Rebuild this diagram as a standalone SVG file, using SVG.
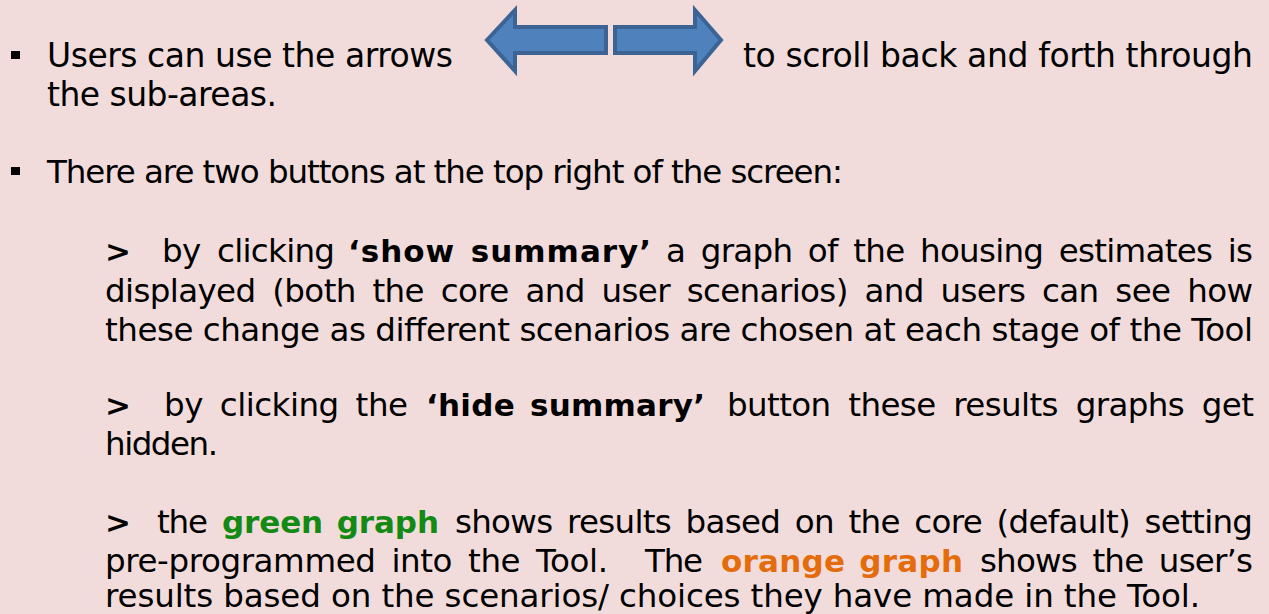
<svg xmlns="http://www.w3.org/2000/svg" width="1269" height="614" viewBox="0 0 1269 614">
  <style>
    .t { font-family: "DejaVu Sans", Verdana, sans-serif; font-size: 32.5px; fill: #000; }
    .b { font-weight: bold; font-size: 31px; }
    .big { font-size: 33px; }
    .mid { font-size: 32.5px; }
    .green { fill: #138A13; font-weight: bold; font-size: 31px; }
    .orange { fill: #E46C0A; font-weight: bold; font-size: 31px; }
    .arrow { fill: #4F81BD; stroke: #3B6394; stroke-width: 4; stroke-linejoin: miter; }
    .bullet { fill: #000; }
  </style>
  <rect x="0" y="0" width="1269" height="614" fill="#F2DCDB"/>

  <g id="bullet1">
    <rect class="bullet" x="11" y="51" width="9" height="8"/>
    <text class="t big" x="47" y="67" textLength="406" lengthAdjust="spacing">Users can use the arrows</text>
    <text class="t big" x="743" y="67" textLength="510" lengthAdjust="spacing">to scroll back and forth through</text>
    <text class="t big" x="47" y="106" textLength="230" lengthAdjust="spacing">the sub-areas.</text>
  </g>

  <g id="arrows">
    <path id="arrow-left" class="arrow" d="M487,40 L515,10 L515,27 L606,27 L606,53 L515,53 L515,71 Z"/>
    <path id="arrow-right" class="arrow" d="M721,40 L695,10 L695,27 L615,27 L615,53 L695,53 L695,71 Z"/>
  </g>

  <g id="bullet2">
    <rect class="bullet" x="11" y="167" width="9" height="8"/>
    <text class="t mid" x="47" y="183" textLength="796" lengthAdjust="spacing">There are two buttons at the top right of the screen:</text>
  </g>

  <g id="para-show">
    <text class="t b" x="105" y="262">&gt;</text>
    <text class="t" x="162" y="262" word-spacing="7" textLength="173" lengthAdjust="spacing">by clicking</text>
    <text class="t b" x="348" y="262" word-spacing="4" textLength="303" lengthAdjust="spacing">‘show summary’</text>
    <text class="t" x="666" y="262" word-spacing="6" textLength="587" lengthAdjust="spacing">a graph of the housing estimates is</text>
    <text class="t" x="105" y="302" word-spacing="7" textLength="1148" lengthAdjust="spacing">displayed (both the core and user scenarios) and users can see how</text>
    <text class="t" x="105" y="341" textLength="1148" lengthAdjust="spacing">these change as different scenarios are chosen at each stage of the Tool</text>
  </g>

  <g id="para-hide">
    <text class="t b" x="105" y="416">&gt;</text>
    <text class="t" x="164" y="416" word-spacing="7" textLength="244" lengthAdjust="spacing">by clicking the</text>
    <text class="t b" x="426" y="416" word-spacing="4" textLength="279" lengthAdjust="spacing">‘hide summary’</text>
    <text class="t" x="727" y="416" word-spacing="8" textLength="527" lengthAdjust="spacing">button these results graphs get</text>
    <text class="t" x="105" y="455" textLength="113" lengthAdjust="spacing">hidden.</text>
  </g>

  <g id="para-graphs">
    <text class="t b" x="105" y="533">&gt;</text>
    <text class="t" x="157" y="533" textLength="51" lengthAdjust="spacing">the</text>
    <text class="t green" x="222" y="533" word-spacing="3" textLength="217" lengthAdjust="spacing">green graph</text>
    <text class="t" x="455" y="533" word-spacing="5" textLength="798" lengthAdjust="spacing">shows results based on the core (default) setting</text>
    <text class="t" x="105" y="572" word-spacing="6" textLength="503" lengthAdjust="spacing">pre-programmed into the Tool.</text>
    <text class="t" x="645" y="572" textLength="58" lengthAdjust="spacing">The</text>
    <text class="t orange" x="721" y="572" word-spacing="3" textLength="242" lengthAdjust="spacing">orange graph</text>
    <text class="t" x="980" y="572" word-spacing="6" textLength="273" lengthAdjust="spacing">shows the user’s</text>
    <text class="t" x="105" y="607" textLength="1095" lengthAdjust="spacing">results based on the scenarios/ choices they have made in the Tool.</text>
  </g>
</svg>
